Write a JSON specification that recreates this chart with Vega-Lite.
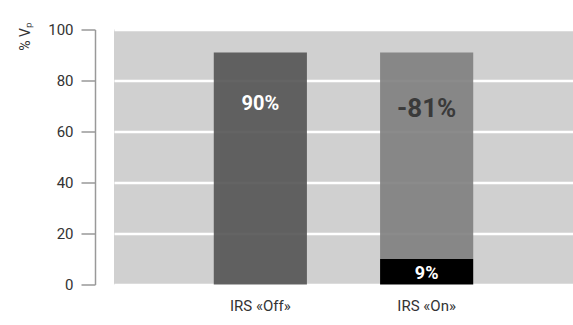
{
  "$schema": "https://vega.github.io/schema/vega-lite/v6.json",
  "width": 459,
  "height": 255,
  "autosize": {"type": "none"},
  "padding": {"left": 114, "top": 29.5, "right": 0, "bottom": 40.5},
  "background": "white",
  "config": {"view": {"fill": "#d0d0d0", "stroke": null}, "font": "Roboto"},
  "data": {
    "values": [
      {"cond": "IRS «Off»", "seg": "Off", "value": 91, "label": "90%"},
      {"cond": "IRS «On»", "seg": "On residual", "value": 10, "label": "9%"},
      {"cond": "IRS «On»", "seg": "On reduction", "value": 81, "label": "-81%"}
    ]
  },
  "encoding": {
    "x": {
      "field": "cond",
      "type": "nominal",
      "sort": null,
      "scale": {"paddingInner": 0.44, "paddingOuter": 0.6},
      "axis": {"title": null, "labelAngle": 0, "ticks": false, "domain": false, "labelFontSize": 15, "labelPadding": 14, "labelColor": "#333333", "grid": false}
    }
  },
  "layer": [
    {
      "mark": {"type": "bar"},
      "encoding": {
        "y": {
          "field": "value",
          "type": "quantitative",
          "stack": "zero",
          "scale": {"domain": [0, 100], "nice": false},
          "axis": {
            "values": [0, 20, 40, 60, 80, 100],
            "offset": 19,
            "tickSize": 14,
            "domainColor": "#999999",
            "tickColor": "#999999",
            "domainWidth": 1.5,
            "tickWidth": 1.5,
            "labelFontSize": 15,
            "labelColor": "#333333",
            "labelPadding": 8,
            "gridColor": "white",
            "gridWidth": 2.5,
            "title": "% Vₚ",
            "titleAngle": -90,
            "titleAlign": "right",
            "titleBaseline": "middle",
            "titleX": -70,
            "titleY": -8,
            "titleFontSize": 14,
            "titleFontWeight": "normal",
            "titleColor": "#333333"
          }
        },
        "color": {
          "field": "seg",
          "type": "nominal",
          "scale": {"domain": ["Off", "On residual", "On reduction"], "range": ["#535353", "#000000", "#7e7e7e"]},
          "legend": null
        },
        "order": {"field": "seg", "sort": "descending"},
        "opacity": {"condition": {"test": "datum.seg === 'On residual'", "value": 1}, "value": 0.9}
      }
    },
    {
      "transform": [{"filter": "datum.seg === 'Off'"}],
      "mark": {"type": "text", "dy": 52, "fontSize": 20, "fontWeight": "bold", "color": "white", "baseline": "middle"},
      "encoding": {"y": {"field": "value", "type": "quantitative"}, "text": {"field": "label"}}
    },
    {
      "transform": [{"filter": "datum.seg === 'On reduction'"}],
      "mark": {"type": "text", "dy": 57, "fontSize": 26, "fontWeight": "bold", "color": "#3a3a3a", "baseline": "middle"},
      "encoding": {"y": {"datum": 91, "type": "quantitative"}, "text": {"field": "label"}}
    },
    {
      "transform": [{"filter": "datum.seg === 'On residual'"}],
      "mark": {"type": "text", "dy": 15, "fontSize": 18, "fontWeight": "bold", "color": "white", "baseline": "middle"},
      "encoding": {"y": {"field": "value", "type": "quantitative"}, "text": {"field": "label"}}
    }
  ]
}
